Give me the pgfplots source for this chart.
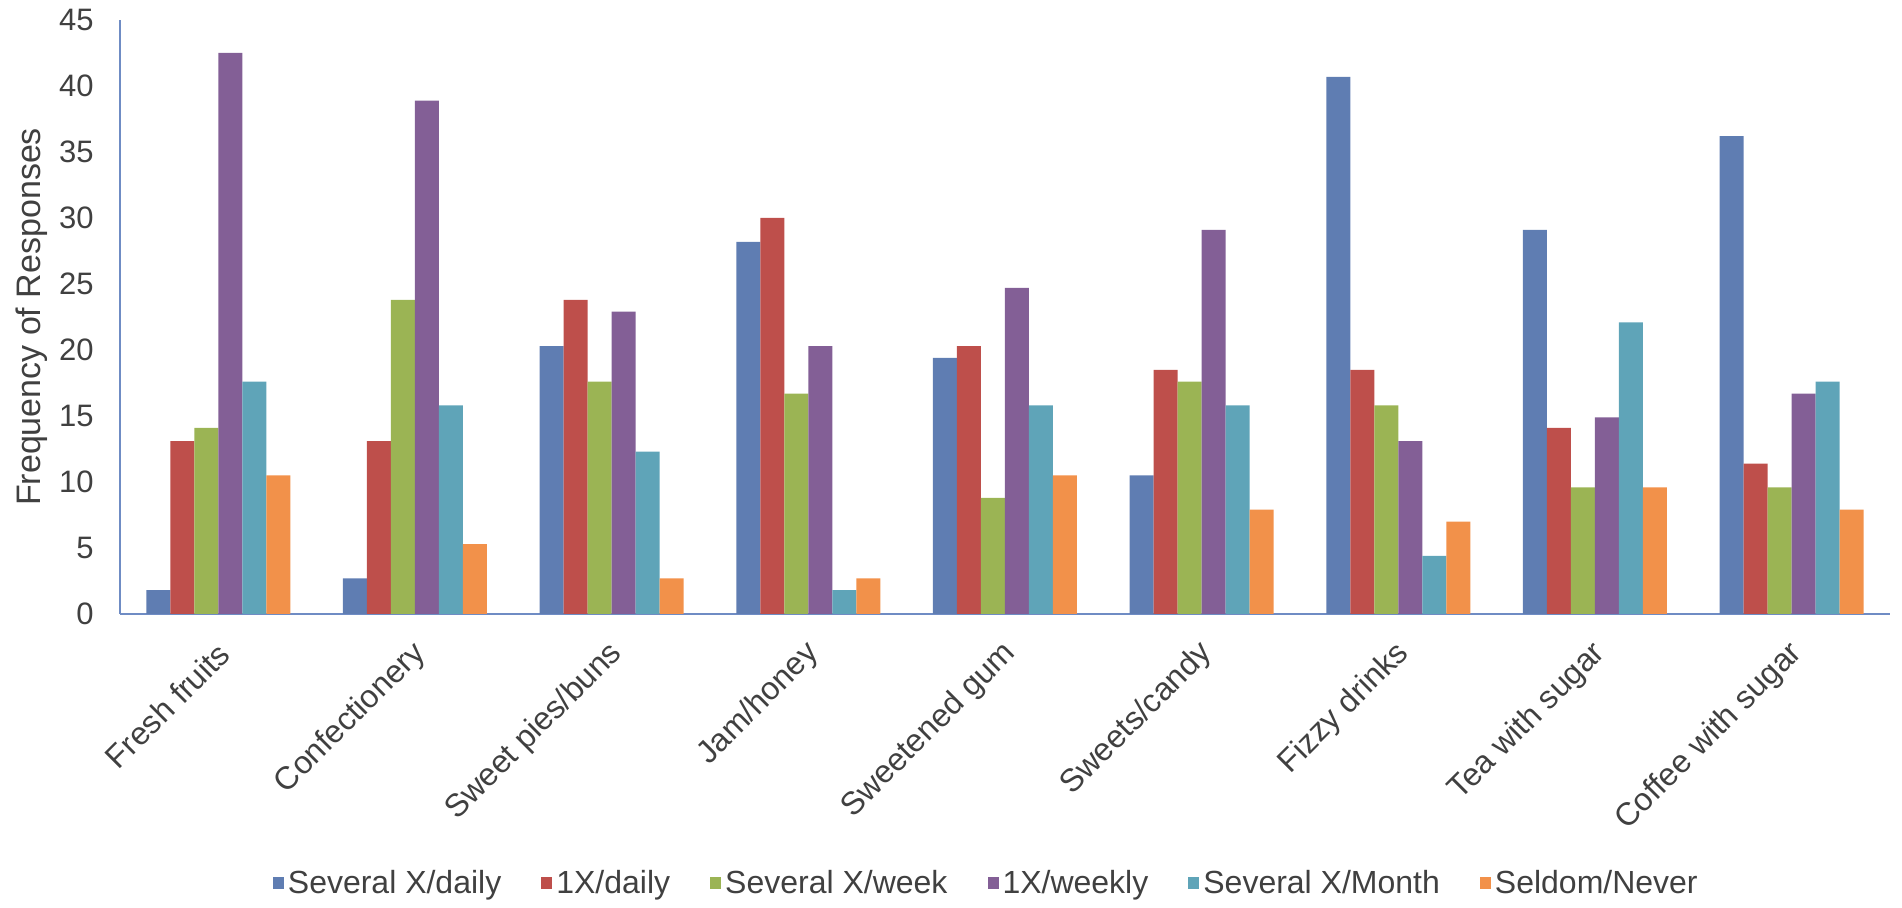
\documentclass[border=0pt]{standalone}
\usepackage{pgfplots}
\pgfplotsset{compat=1.18}
\usepackage{fontspec}
\setmainfont{Liberation Sans}
\definecolor{cblue}{HTML}{5F7DB2}
\definecolor{cred}{HTML}{BE4F4B}
\definecolor{cgreen}{HTML}{9BB454}
\definecolor{cpurple}{HTML}{835F96}
\definecolor{ccyan}{HTML}{5FA4B8}
\definecolor{corange}{HTML}{F2914A}
\definecolor{axblue}{HTML}{6F8CC4}
\definecolor{txt}{HTML}{404040}
\begin{document}
\begin{tikzpicture}
\useasboundingbox (-60pt,-147pt) rectangle (891pt,307pt);
\begin{axis}[
  scale only axis,
  width=885pt, height=297pt,
  ybar=0pt, bar width=12pt,
  xmin=-0.5, xmax=8.5, ymin=0, ymax=45,
  ytick={0,5,...,45},
  xtick={0,...,8},
  xticklabels={Fresh fruits,Confectionery,Sweet pies/buns,Jam/honey,Sweetened gum,Sweets/candy,Fizzy drinks,Tea with sugar,Coffee with sugar},
  axis x line*=bottom, axis y line*=left,
  axis line style={draw=axblue, line width=1.3pt},
  tick style={draw=none},
  /pgf/number format/assume math mode=true,
  yticklabel style={font=\fontsize{15.5}{18}\selectfont, text=txt, inner sep=0pt, xshift=-13pt},
  xticklabel style={font=\fontsize{16}{19}\selectfont, text=txt, inner sep=0pt, xshift=3pt, yshift=-13pt, rotate=45, anchor=east},
  every axis y label/.style={at={(axis description cs:-0.05,0.5)}, rotate=90, anchor=center, font=\fontsize{17}{20}\selectfont, text=txt},
  ylabel={Frequency of Responses},
  legend image code/.code={\fill[#1,draw=none] (0pt,-3pt) rectangle (5.5pt,3pt);},
  legend columns=-1,
  legend style={at={(axis description cs:0.49,-0.453)}, anchor=center, draw=none, fill=none,
    font=\fontsize{16}{19}\selectfont, text=txt,
    /tikz/every even column/.append style={column sep=18pt},
    nodes={inner sep=2pt}},
]
\addplot[fill=cblue, draw=none] coordinates {(0,1.8) (1,2.7) (2,20.3) (3,28.2) (4,19.4) (5,10.5) (6,40.7) (7,29.1) (8,36.2)};
\addplot[fill=cred, draw=none] coordinates {(0,13.1) (1,13.1) (2,23.8) (3,30.0) (4,20.3) (5,18.5) (6,18.5) (7,14.1) (8,11.4)};
\addplot[fill=cgreen, draw=none] coordinates {(0,14.1) (1,23.8) (2,17.6) (3,16.7) (4,8.8) (5,17.6) (6,15.8) (7,9.6) (8,9.6)};
\addplot[fill=cpurple, draw=none] coordinates {(0,42.5) (1,38.9) (2,22.9) (3,20.3) (4,24.7) (5,29.1) (6,13.1) (7,14.9) (8,16.7)};
\addplot[fill=ccyan, draw=none] coordinates {(0,17.6) (1,15.8) (2,12.3) (3,1.8) (4,15.8) (5,15.8) (6,4.4) (7,22.1) (8,17.6)};
\addplot[fill=corange, draw=none] coordinates {(0,10.5) (1,5.3) (2,2.7) (3,2.7) (4,10.5) (5,7.9) (6,7.0) (7,9.6) (8,7.9)};
\legend{Several X/daily,1X/daily,Several X/week,1X/weekly,Several X/Month,Seldom/Never}
\end{axis}
\end{tikzpicture}
\end{document}
